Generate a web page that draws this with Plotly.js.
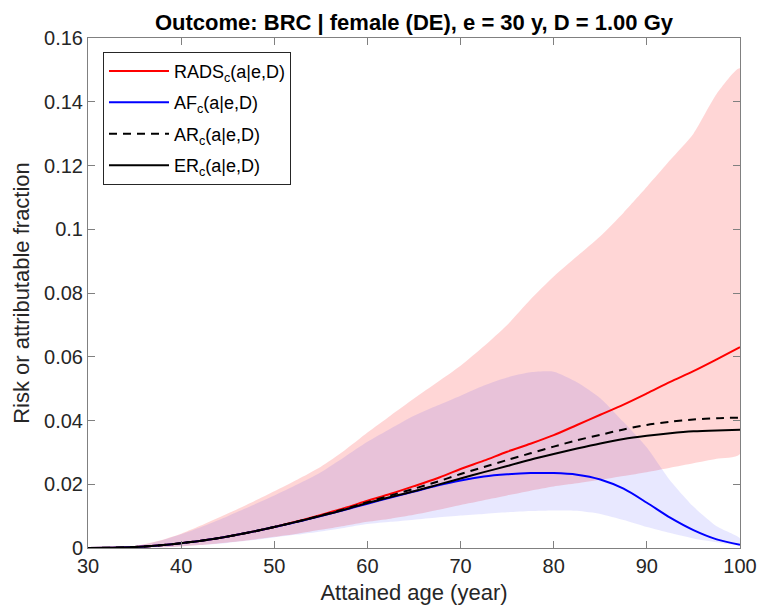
<!DOCTYPE html>
<html>
<head>
<meta charset="utf-8">
<script src="https://cdn.plot.ly/plotly-3.0.1.min.js"></script>
<style>html,body{margin:0;padding:0;background:#fff;}#chart{width:758px;height:610px;}</style>
</head>
<body>
<div id="chart"></div>
<script>
const ages = [30,32.5,35,37.5,40,42.5,45,47.5,50,52.5,55,57.5,60,62.5,65,67.5,70,72.5,75,77.5,80,82.5,85,87.5,90,92.5,95,97.5,100];

const rads = [0,0.0001,0.0003,0.0008,0.0015,0.0024,0.0036,0.005,0.0066,0.0084,0.0104,0.0125,0.0148,0.017,0.0194,0.0219,0.0248,0.0274,0.0302,0.0327,0.0354,0.0386,0.0418,0.0450,0.0485,0.0521,0.0555,0.0592,0.0630];
const af   = [0,0.0001,0.0003,0.0008,0.0015,0.0024,0.0036,0.005,0.0066,0.0082,0.0100,0.0119,0.0139,0.0158,0.0177,0.0196,0.0212,0.0224,0.0231,0.0235,0.0235,0.0230,0.0215,0.0186,0.0142,0.0095,0.0056,0.0027,0.001];
const ar   = [0,0.0001,0.0003,0.0008,0.0015,0.0024,0.0036,0.005,0.0066,0.0083,0.0102,0.0122,0.0144,0.0165,0.0186,0.0208,0.0232,0.0254,0.0276,0.0297,0.0318,0.0338,0.0355,0.0372,0.0386,0.0396,0.0403,0.0407,0.0409];
const er   = [0,0.0001,0.0003,0.0008,0.0015,0.0024,0.0036,0.005,0.0066,0.0083,0.0101,0.0120,0.0141,0.0160,0.0178,0.0198,0.0218,0.0238,0.0257,0.0277,0.0295,0.0312,0.0328,0.0342,0.0352,0.0360,0.0366,0.0369,0.0371];

const radsUpper = [0,0.0001,0.0006,0.0022,0.0045,0.0075,0.0108,0.0142,0.0178,0.0215,0.0255,0.0305,0.0362,0.0416,0.0469,0.0520,0.0572,0.0633,0.0700,0.0780,0.0852,0.0915,0.0978,0.1052,0.1133,0.1217,0.1300,0.1425,0.1505];
const radsLower = [0,0,0.0001,0.0002,0.0005,0.0010,0.0017,0.0025,0.0035,0.0045,0.0057,0.0069,0.0082,0.0092,0.0104,0.0119,0.0135,0.0150,0.0165,0.0180,0.0193,0.0203,0.0214,0.0226,0.0238,0.0252,0.0266,0.0280,0.0295];
const afUpper   = [0,0.0001,0.0005,0.0021,0.0043,0.0070,0.0100,0.0132,0.0165,0.0200,0.0238,0.0285,0.0333,0.0375,0.0415,0.0447,0.0478,0.0510,0.0535,0.0551,0.0553,0.0520,0.0470,0.0395,0.0315,0.0212,0.0130,0.0068,0.0030];
const afLower   = [0,0,0.0001,0.0002,0.0005,0.0010,0.0016,0.0024,0.0033,0.0042,0.0052,0.0063,0.0075,0.0082,0.0089,0.0096,0.0102,0.0107,0.0112,0.0116,0.0118,0.0117,0.0107,0.0088,0.0066,0.0047,0.0030,0.0018,0.0010];

const titleText = "Outcome: BRC | female (DE), e = 30 y, D = 1.00 Gy";
const names = ["RADS<sub>c</sub>(a|e,D)", "AF<sub>c</sub>(a|e,D)", "AR<sub>c</sub>(a|e,D)", "ER<sub>c</sub>(a|e,D)"];
const xTickVals = [30,40,50,60,70,80,90,100];
const yTickVals = [0,0.02,0.04,0.06,0.08,0.1,0.12,0.14,0.16];
const yTickText = ['0','0.02','0.04','0.06','0.08','0.1','0.12','0.14','0.16'];

const FONT = 'Liberation Sans, Arial, Helvetica, sans-serif';

function band(upper, lower, color) {
  return {
    x: ages.concat(ages.slice().reverse()),
    y: upper.concat(lower.slice().reverse()),
    type: 'scatter', mode: 'lines', fill: 'toself',
    fillcolor: color, line: {width: 0, shape: 'spline', smoothing: 0.6},
    hoverinfo: 'skip', showlegend: false
  };
}
function line(y, name, color, dash) {
  return {x: ages, y: y, type: 'scatter', mode: 'lines', name: name, legendgroup: name,
    line: {color: color, width: 2, dash: dash || 'solid', shape: 'spline', smoothing: 0.8}};
}

const data = [
  band(radsUpper, radsLower, 'rgba(255,0,0,0.16)'),
  band(afUpper, afLower, 'rgba(0,0,255,0.09)'),
  line(rads, names[0], '#ff0000'),
  line(af, names[1], '#0000ff'),
  line(ar, names[2], '#000000', '8px,6px'),
  line(er, names[3], '#000000')
];

const axisCommon = {
  showgrid: false, zeroline: false, showline: true, mirror: 'ticks',
  linecolor: '#808080', linewidth: 1, ticks: 'inside', ticklen: 7,
  tickcolor: '#808080', tickfont: {family: FONT, size: 20, color: '#262626'}
};

const layout = {
  width: 758, height: 610,
  margin: {l: 88, r: 18, t: 38, b: 62},
  paper_bgcolor: '#fff', plot_bgcolor: '#fff',
  title: {text: '<b>' + titleText + '</b>', xref: 'paper', x: 0.5, xanchor: 'center',
          yref: 'container', y: 0.963, yanchor: 'middle',
          font: {family: FONT, size: 22, color: '#000'}},
  xaxis: Object.assign({}, axisCommon, {
    range: [30, 100], tickvals: xTickVals,
    title: {text: 'Attained age (year)', standoff: 8, font: {family: FONT, size: 22, color: '#262626'}}
  }),
  yaxis: Object.assign({}, axisCommon, {
    range: [0, 0.16], tickvals: yTickVals, ticktext: yTickText,
    title: {text: 'Risk or attributable fraction', standoff: 8, font: {family: FONT, size: 22, color: '#262626'}}
  }),
  legend: {x: 0.023, y: 0.973, xanchor: 'left', yanchor: 'top',
    bgcolor: '#fff', bordercolor: '#262626', borderwidth: 1,
    itemwidth: 60, tracegroupgap: 5,
    font: {family: FONT, size: 18, color: '#000'}},
  showlegend: true
};

Plotly.newPlot('chart', data, layout, {staticPlot: true, displayModeBar: false});
</script>
</body>
</html>
